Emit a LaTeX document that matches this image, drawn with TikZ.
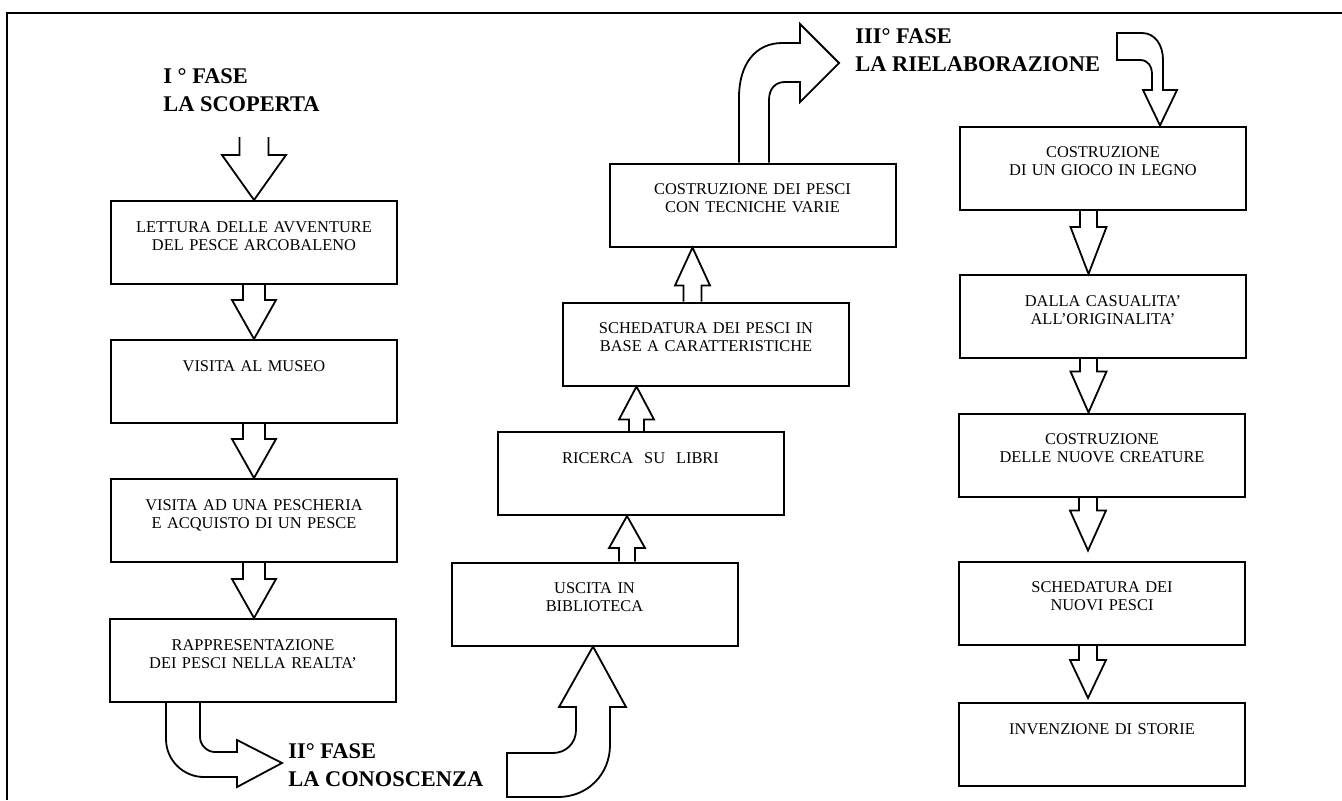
\documentclass[tikz,border=0pt]{standalone}
\usepackage{fontspec}
\setmainfont{Liberation Serif}
\usetikzlibrary{calc}

\begin{document}
\begin{tikzpicture}[x=0.5pt, y=-0.5pt,
    tappa/.style={draw, line width=1pt, text width=135pt, inner xsep=4pt, inner ysep=8.5pt,
      text height=7pt, text depth=17.5pt, align=center, font=\fontsize{8.2}{9.2}\selectfont},
    fase/.style={anchor=north west, inner sep=0pt, align=left, font=\bfseries\fontsize{11.2}{14}\selectfont},
    contorno/.style={line width=0.9pt, line join=miter},
    giu/.style n args={3}{contorno, to path={let \p1=(\tikztostart), \p2=(\tikztotarget) in
      (\x1-#1,\y1) -- (\x1-#1,\y2+#3) -- (\x1-#2,\y2+#3) -- (\x1,\y2) -- (\x1+#2,\y2+#3) -- (\x1+#1,\y2+#3) -- (\x1+#1,\y1)}},
    su/.style n args={3}{contorno, to path={let \p1=(\tikztostart), \p2=(\tikztotarget) in
      (\x1-#1,\y1) -- (\x1-#1,\y2-#3) -- (\x1-#2,\y2-#3) -- (\x1,\y2) -- (\x1+#2,\y2-#3) -- (\x1+#1,\y2-#3) -- (\x1+#1,\y1)}}]
  \useasboundingbox (0,0) rectangle (1342,800);
  \draw[line width=1.2pt] (7,800) -- (7,13) -- (1342,13);

  \node[fase] (fase1) at (163,68) {I ° FASE\\LA SCOPERTA};
  \node[fase] (fase2) at (288,743) {II° FASE\\LA CONOSCENZA};
  \node[fase] (fase3) at (855,28) {III° FASE\\LA RIELABORAZIONE};

  \node[tappa] (lettura) at (254,242.5) {LETTURA DELLE AVVENTURE\\DEL PESCE ARCOBALENO};
  \node[tappa] (museo) at (254,381.5) {VISITA AL MUSEO};
  \node[tappa] (pescheria) at (254,520.5) {VISITA AD UNA PESCHERIA\\E ACQUISTO DI UN PESCE};
  \node[tappa] (rappr) at (253,660.5) {RAPPRESENTAZIONE\\DEI PESCI NELLA REALTA'};

  \node[tappa] (uscita) at (594.5,604) {USCITA IN\\BIBLIOTECA};
  \node[tappa] (ricerca) at (640.5,473.5) {RICERCA~~SU~~LIBRI};
  \node[tappa] (schedatura) at (706,344) {SCHEDATURA DEI PESCI IN\\BASE A CARATTERISTICHE};
  \node[tappa] (costr) at (752.5,205) {COSTRUZIONE DEI PESCI\\CON TECNICHE VARIE};

  \node[tappa] (gioco) at (1103,168) {COSTRUZIONE\\DI UN GIOCO IN LEGNO};
  \node[tappa] (casualita) at (1103,316.5) {DALLA CASUALITA'\\ALL'ORIGINALITA'};
  \node[tappa] (creature) at (1102,455) {COSTRUZIONE\\DELLE NUOVE CREATURE};
  \node[tappa] (nuovi) at (1102,603) {SCHEDATURA DEI\\NUOVI PESCI};
  \node[tappa] (storie) at (1102,744.5) {INVENZIONE DI STORIE};

  \coordinate (inizio) at (254,137);
  \draw[giu={7.25pt}{16pt}{22.5pt}] (inizio) to (lettura.north);
  \draw[giu={5.5pt}{11pt}{19.5pt}] (lettura.south) to (museo.north);
  \draw[giu={5.5pt}{11pt}{19.5pt}] (museo.south) to (pescheria.north);
  \draw[giu={5.5pt}{11pt}{19.5pt}] (pescheria.south) to (rappr.north);

  \draw[su={4pt}{9pt}{16pt}] ([xshift=16.25pt]uscita.north) to (ricerca.south);
  \draw[su={3.75pt}{8.75pt}{16.5pt}] ([xshift=-2pt]ricerca.north) to (schedatura.south);
  \draw[su={4.5pt}{8.75pt}{19pt}] ([xshift=-6.75pt]schedatura.north) to (costr.south);

  \draw[giu={4.25pt}{9pt}{23.5pt}] ([xshift=-7.25pt]gioco.south) to (casualita.north);
  \draw[giu={4.25pt}{9pt}{20.5pt}] ([xshift=-7.25pt]casualita.south) to (creature.north);
  \draw[giu={4.5pt}{9pt}{20pt}] ([xshift=-7pt]creature.south) to ([yshift=5pt]nuovi.north);
  \draw[giu={4.5pt}{9pt}{19pt}] ([xshift=-7pt]nuovi.south) to ([yshift=2pt]storie.north);

  \draw[contorno] ([xshift=-43.5pt]rappr.south) -- (166,739) .. controls (166,760) and (183,777) .. (204,777)
    -- (237,777) -- (237,787) -- (282,763) -- (237,740) -- (237,752) -- (215,752)
    .. controls (207,752) and (200,745) .. (200,737) -- ([xshift=-26.5pt]rappr.south);
  \draw[contorno] (507,797) -- (507,753) -- (553,753) .. controls (566,753) and (576,743) .. (576,730)
    -- (576,707) -- (559,707) -- ([xshift=-0.75pt]uscita.south) -- (626,707) -- (610,707) -- (610,745)
    .. controls (610,774) and (588,797) .. (558,797) -- cycle;
  \draw[contorno] ([xshift=-6.75pt]costr.north) -- (739,97) .. controls (739,65) and (755,43) .. (782,43)
    -- (800,43) -- (800,24) -- (839,63) -- (800,102) -- (800,82) -- (785,82)
    .. controls (775,82) and (769,89) .. (769,100) -- ([xshift=8.25pt]costr.north);
  \draw[contorno] (1117,33) -- (1142,33) .. controls (1155,33) and (1163,45) .. (1163,60) -- (1163,90)
    -- (1177,90) -- ([xshift=28.5pt]gioco.north) -- (1143,90) -- (1152,90) -- (1152,75)
    .. controls (1152,66) and (1148,60) .. (1140,60) -- (1117,60) -- cycle;
\end{tikzpicture}
\end{document}
